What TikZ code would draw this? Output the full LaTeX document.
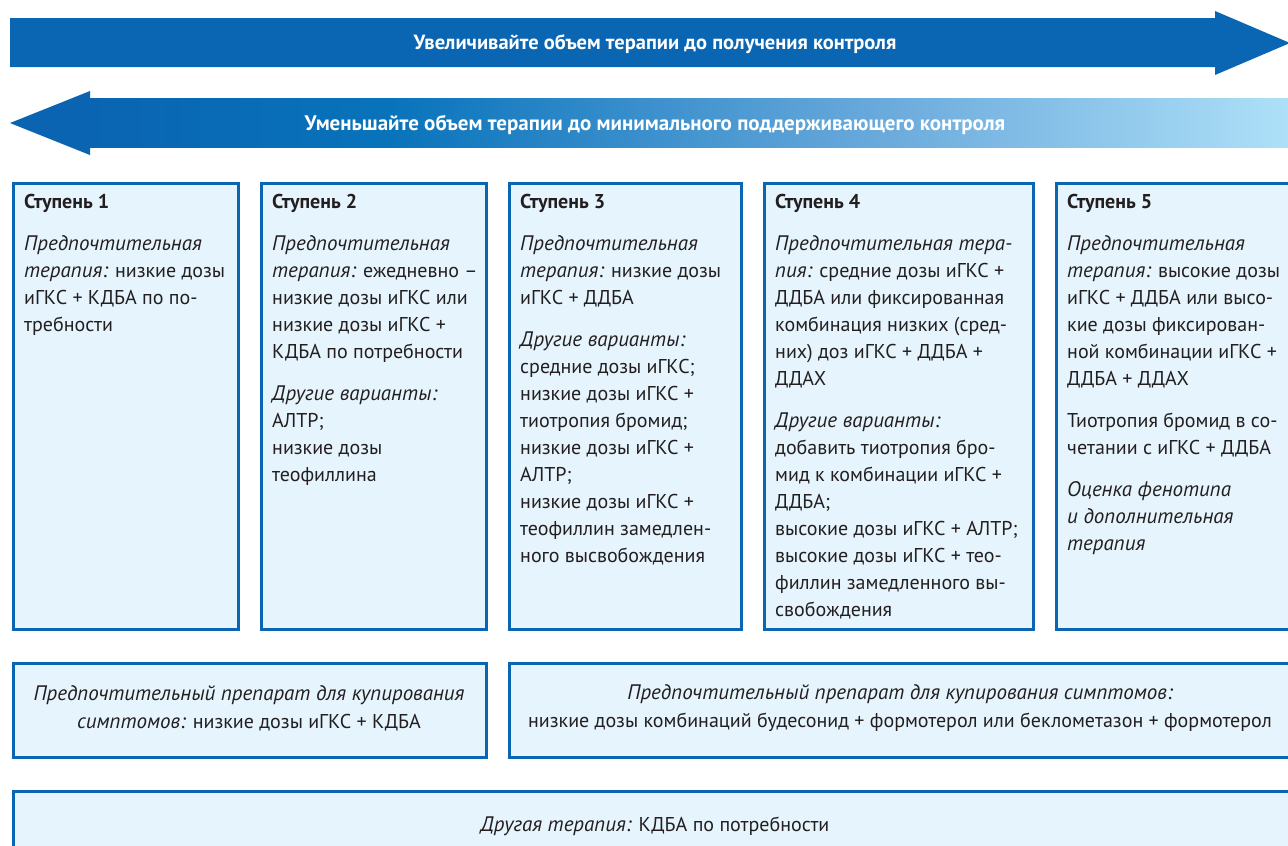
\documentclass[tikz,border=0pt]{standalone}
\usepackage{fontspec}
\setmainfont{PT Sans}
\usetikzlibrary{calc}
\definecolor{darkblue}{HTML}{0A66B3}
\definecolor{boxfill}{HTML}{E6F5FD}
\definecolor{txt}{HTML}{231F20}
\definecolor{gA}{HTML}{0A64B2}
\definecolor{gB}{HTML}{0873BB}
\definecolor{gC}{HTML}{6AAADC}
\definecolor{gD}{HTML}{AEE0F8}
\pgfdeclarehorizontalshading{revshade}{100bp}{color(0bp)=(gA); color(25bp)=(gA); color(37.5bp)=(gB); color(58bp)=(gC); color(75bp)=(gD); color(100bp)=(gD)}
\tikzset{
  stepbox/.style={draw=darkblue, line width=2.5pt, fill=boxfill, anchor=north west, inner sep=0pt},
  steptext/.style={anchor=north west, align=left, inner sep=0pt, text=txt, font=\fontsize{20}{27}\selectfont},
  ctext/.style={align=center, inner sep=0pt, text=txt, font=\fontsize{20}{28}\selectfont},
  arrowtext/.style={text=white, inner sep=0pt, font=\fontsize{20.5}{22}\selectfont\bfseries}
}
\newcommand{\pg}{\\[15pt]}
\newcommand{\itx}[1]{{\fontsize{21}{27}\selectfont\itshape #1}}
\begin{document}
\begin{tikzpicture}[x=1pt,y=-1pt]
\path[use as bounding box, clip] (0,0) rectangle (1288,846);
\fill[white] (0,0) rectangle (1288,846);
% top arrow
\fill[darkblue] (10,18) -- (1215,18) -- (1215,11) -- (1290,43) -- (1215,75) -- (1215,67) -- (10,67) -- cycle;
\node[arrowtext] (up) at (655,44) {Увеличивайте объем терапии до получения контроля};
% bottom arrow
\shade[shading=revshade] (90,98) rectangle (1290,147);
\fill[gA] (90,91) -- (90,155) -- (10,123) -- cycle;
\node[arrowtext, font=\fontsize{21}{22}\selectfont\bfseries] (down) at (655,125) {Уменьшайте объем терапии до минимального поддерживающего контроля};
% step boxes
\node[stepbox, minimum width=225, minimum height=446] (s1) at (12,182) {};
\node[stepbox, minimum width=225, minimum height=446] (s2) at (260,182) {};
\node[stepbox, minimum width=232, minimum height=446] (s3) at (508,182) {};
\node[stepbox, minimum width=269, minimum height=446] (s4) at (763,182) {};
\node[stepbox, minimum width=260, minimum height=446] (s5) at (1055,182) {};
\node[steptext] (t1) at ($(s1.north west)+(12,12)$) {\textbf{Ступень 1}\pg
\itx{Предпочтительная}\\
\itx{терапия:} низкие дозы\\
иГКС + КДБА по по-\\
требности};
\node[steptext] (t2) at ($(s2.north west)+(12,12)$) {\textbf{Ступень 2}\pg
\itx{Предпочтительная}\\
\itx{терапия:} ежедневно –\\
низкие дозы иГКС или\\
низкие дозы иГКС +\\
КДБА по потребности\pg
\itx{Другие варианты:}\\
АЛТР;\\
низкие дозы\\
теофиллина};
\node[steptext] (t3) at ($(s3.north west)+(12,12)$) {\textbf{Ступень 3}\pg
\itx{Предпочтительная}\\
\itx{терапия:} низкие дозы\\
иГКС + ДДБА\pg
\itx{Другие варианты:}\\
средние дозы иГКС;\\
низкие дозы иГКС +\\
тиотропия бромид;\\
низкие дозы иГКС +\\
АЛТР;\\
низкие дозы иГКС +\\
теофиллин замедлен-\\
ного высвобождения};
\node[steptext] (t4) at ($(s4.north west)+(12,12)$) {\textbf{Ступень 4}\pg
\itx{Предпочтительная тера-}\\
\itx{пия:} средние дозы иГКС +\\
ДДБА или фиксированная\\
комбинация низких (сред-\\
них) доз иГКС + ДДБА +\\
ДДАХ\pg
\itx{Другие варианты:}\\
добавить тиотропия бро-\\
мид к комбинации иГКС +\\
ДДБА;\\
высокие дозы иГКС + АЛТР;\\
высокие дозы иГКС + тео-\\
филлин замедленного вы-\\
свобождения};
\node[steptext] (t5) at ($(s5.north west)+(12,12)$) {\textbf{Ступень 5}\pg
\itx{Предпочтительная}\\
\itx{терапия:} высокие дозы\\
иГКС + ДДБА или высо-\\
кие дозы фиксирован-\\
ной комбинации иГКС +\\
ДДБА + ДДАХ\pg
Тиотропия бромид в со-\\
четании с иГКС + ДДБА\pg
\itx{Оценка фенотипа}\\
\itx{и дополнительная}\\
\itx{терапия}};
% bottom boxes
\node[stepbox, minimum width=473, minimum height=94] (r1) at (12,662) {};
\node[stepbox, minimum width=800, minimum height=94] (r2) at (508,662) {};
\node[stepbox, minimum width=1300, minimum height=80] (r3) at (12,790) {};
\node[ctext] (rt1) at (249,708) {\itx{Предпочтительный препарат для купирования}\\
\itx{симптомов:} низкие дозы иГКС + КДБА};
\node[ctext] (rt2) at (900,708) {\itx{Предпочтительный препарат для купирования симптомов:}\\
низкие дозы комбинаций будесонид + формотерол или беклометазон + формотерол};
\node[ctext] (rt3) at (655,826) {\itx{Другая терапия:} КДБА по потребности};
\end{tikzpicture}
\end{document}
